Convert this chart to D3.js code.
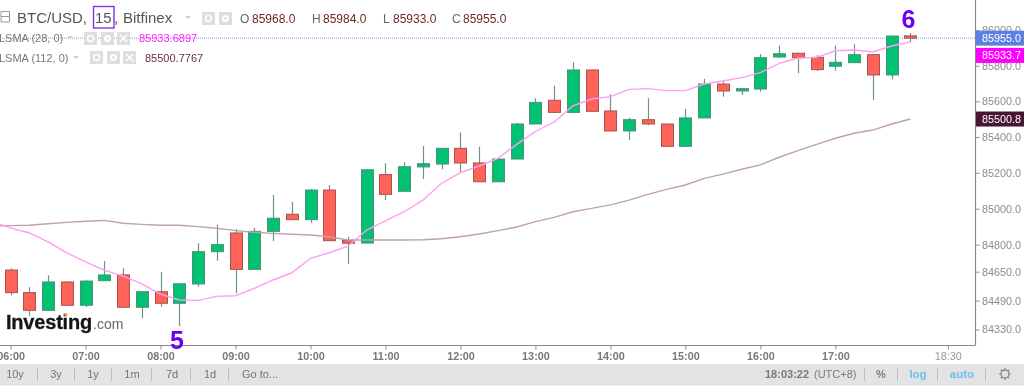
<!DOCTYPE html>
<html><head><meta charset="utf-8">
<script src="https://cdn.jsdelivr.net/npm/d3@7/dist/d3.min.js"></script>
<style>
html,body{margin:0;padding:0;background:#fff;overflow:hidden}
svg{display:block;filter:blur(.35px)}
text{font-family:"Liberation Sans",Arial,sans-serif}
</style></head><body><svg id="c" width="1024" height="388"></svg>
<script>
const minutes=d3.range(49).map(i=>i*15);
const open =[84659,84534,84436,84593,84464,84600,84632,84453,84539,84475,84582,84761,84865,84663,84874,84969,84939,85104,84824,84809,85190,85097,85233,85249,85337,85255,85150,85277,85473,85606,85538,85776,85546,85434,85497,85473,85348,85507,85697,85658,85669,85849,85870,85847,85797,85817,85862,85748,85968];
const high =[84669,84564,84630,84595,84602,84709,84669,84539,84650,84583,84808,84911,84887,84894,85078,85039,85108,85132,84844,85220,85253,85259,85350,85337,85426,85346,85279,85480,85617,85688,85821,85776,85639,85508,85617,85473,85557,85727,85710,85673,85866,85912,85873,85860,85912,85920,85864,85969,85984];
const low  =[84519,84406,84436,84464,84453,84600,84453,84392,84456,84348,84567,84711,84530,84663,84820,84939,84922,84822,84694,84809,85048,85097,85166,85220,85205,85150,85150,85277,85473,85538,85538,85544,85434,85383,85466,85348,85348,85507,85626,85635,85654,85845,85757,85770,85772,85817,85607,85724,85933];
const close=[84534,84436,84593,84464,84598,84632,84453,84539,84475,84583,84761,84800,84663,84874,84947,84939,85104,84822,84808,85217,85080,85234,85251,85337,85255,85150,85277,85473,85594,85538,85776,85544,85434,85497,85473,85348,85507,85697,85658,85671,85845,85867,85845,85778,85819,85862,85748,85967,85955];
const lsma28 =[84926,84893,84865,84816,84755,84705,84659,84625,84582,84526,84493,84491,84513,84517,84558,84604,84644,84724,84755,84792,84881,84932,84983,85048,85142,85201,85238,85281,85359,85431,85484,85574,85613,85626,85667,85671,85660,85660,85697,85714,85733,85761,85813,85843,85847,85884,85888,85877,85911,85933.7];
const lsma112=[84905,84906,84908,84916,84924,84930,84935,84919,84913,84908,84908,84900,84891,84878,84869,84863,84858,84854,84844,84826,84826,84826,84826,84827,84833,84844,84859,84878,84898,84928,84952,84983,85002,85021,85048,85080,85108,85132,85169,85193,85220,85244,85287,85324,85359,85393,85421,85439,85473,85500.8];
const maMinutes=d3.range(-1,49).map(i=>i*15);
const priceTicks=[84330,84490,84650,84800,85000,85200,85400,85600,85800,86000];
const hourLabels=new Map([[0,"06:00"],[60,"07:00"],[120,"08:00"],[180,"09:00"],[240,"10:00"],[300,"11:00"],[360,"12:00"],[420,"13:00"],[480,"14:00"],[540,"15:00"],[600,"16:00"],[660,"17:00"],[750,"18:30"]]);
const rangeButtons=["10y","3y","1y","1m","7d","1d","Go to..."];
const ohlcLabels=["O","H","L","C"];
const ohlcValues=["85968.0","85984.0","85933.0","85955.0"];
const tags=[[85955,"85955.0","#5c80e2",0],[85933.7,"85933.7","#ff00ff",13.5],[85500.8,"85500.8","#481634",0]];

const svg=d3.select("#c");
const axisX=975.5, axisY=345.5;
const x=d3.scaleLinear().domain([0,750]).range([10.6,947.8]);
const y=d3.scaleLog().domain([85000,85800]).range([208.7,65.7]);
const UP="#01c172", DOWN="#ff6258";

const defs=svg.append("defs");
defs.append("clipPath").attr("id","plot").append("rect").attr("width",axisX).attr("height",axisY);
const plot=svg.append("g").attr("clip-path","url(#plot)");

plot.append("line").attr("x1",0).attr("x2",axisX).attr("y1",y(85955)).attr("y2",y(85955))
  .attr("stroke","#7f96ea").attr("stroke-dasharray","1 1");

const candles=plot.selectAll("g.c").data(minutes).join("g").attr("class","c");
candles.append("line").attr("x1",(m)=>Math.round(x(m))+.5).attr("x2",m=>Math.round(x(m))+.5)
  .attr("y1",(m,i)=>y(high[i])).attr("y2",(m,i)=>y(low[i]))
  .attr("stroke","#6f9484").attr("stroke-width",1.2);
candles.append("rect").attr("x",m=>Math.round(x(m))-5.5).attr("width",12)
  .attr("y",(m,i)=>y(Math.max(open[i],close[i])))
  .attr("height",(m,i)=>Math.max(2,y(Math.min(open[i],close[i]))-y(Math.max(open[i],close[i]))))
  .attr("fill",(m,i)=>close[i]>=open[i]?UP:DOWN)
  .attr("stroke",(m,i)=>close[i]>=open[i]?"#4f8f75":"#a4544d").attr("stroke-width",1);

const ln=d3.line().x((d,i)=>x(maMinutes[i])).y(d=>y(d));
plot.append("path").datum(lsma112).attr("d",ln).attr("fill","none").attr("stroke","#bfa0b0").attr("stroke-width",1.4);
plot.append("path").datum(lsma28).attr("d",ln).attr("fill","none").attr("stroke","#ff9cf5").attr("stroke-width",1.4);

const gy=svg.append("g").attr("transform",`translate(${axisX},0)`)
  .call(d3.axisRight(y).tickValues(priceTicks).tickSize(4).tickPadding(2.5).tickFormat(d3.format(".1f")));
gy.select(".domain").attr("d",`M0,0V${axisY}`).attr("stroke","#8a8a8a").attr("stroke-width",1.2);
gy.selectAll(".tick line").attr("stroke","#8a8a8a");
gy.selectAll("text").attr("fill","#8b8b8b").attr("font-size",10.8).attr("font-family",'"Liberation Sans",Arial,sans-serif');

const gx=svg.append("g").attr("transform",`translate(0,${axisY})`)
  .call(d3.axisBottom(x).tickValues([...hourLabels.keys()]).tickSize(4).tickPadding(3).tickFormat(m=>hourLabels.get(m)));
gx.select(".domain").attr("d",`M0,0H${axisX}`).attr("stroke","#8a8a8a").attr("stroke-width",1.2);
gx.selectAll(".tick line").attr("stroke","#8a8a8a");
gx.selectAll("text").attr("fill",m=>m===750?"#999":"#777").attr("font-weight",m=>m===750?"normal":"bold")
  .attr("font-size",10.8).attr("font-family",'"Liberation Sans",Arial,sans-serif');

tags.forEach(([v,t,bg,dy])=>{
  const yy=y(v)+dy;
  svg.append("rect").attr("x",976).attr("y",yy-7.5).attr("width",48).attr("height",15).attr("fill",bg);
  svg.append("text").attr("x",982).attr("y",yy+4).attr("fill","#fff").attr("font-size",10.8).text(t);
});

// header
function icon(px,py,kind){
  svg.append("rect").attr("x",px).attr("y",py).attr("width",13).attr("height",13).attr("fill","#dedede");
  if(kind==="eye"){svg.append("circle").attr("cx",px+6.5).attr("cy",py+6.5).attr("r",3).attr("fill","none").attr("stroke","#fff").attr("stroke-width",1.5);}
  if(kind==="gear"){svg.append("circle").attr("cx",px+6.5).attr("cy",py+6.5).attr("r",3.5).attr("fill","#fff");svg.append("circle").attr("cx",px+6.5).attr("cy",py+6.5).attr("r",1.3).attr("fill","#dedede");}
  if(kind==="x"){svg.append("path").attr("d",`M${px+3},${py+3}L${px+10},${py+10}M${px+10},${py+3}L${px+3},${py+10}`).attr("stroke","#fff").attr("stroke-width",1.5);}
}
const hf='"Noto Sans",sans-serif', tf='"DejaVu Sans",sans-serif';
svg.append("path").attr("d","M1,11.5H9.5V22H1V11.5M1,16.5H9.5").attr("fill","none").attr("stroke","#999");
svg.append("text").attr("x",17).attr("y",22.5).attr("font-family",tf).attr("font-size",15).attr("fill","#555").text("BTC/USD,");
svg.append("text").attr("x",95).attr("y",22.5).attr("font-family",tf).attr("font-size",15).attr("fill","#555").text("15");
svg.append("rect").attr("x",93.5).attr("y",6.5).attr("width",20.5).attr("height",21.5).attr("fill","none").attr("stroke","#7a35e8").attr("stroke-width",1.4);
svg.append("text").attr("x",114).attr("y",22.5).attr("font-family",tf).attr("font-size",15).attr("fill","#555").text(",");
svg.append("text").attr("x",123).attr("y",22.5).attr("font-family",tf).attr("font-size",15).attr("fill","#555").text("Bitfinex");
svg.append("path").attr("d","M185,16h6l-3,3z").attr("fill","#ccc");
icon(202,12,"eye");icon(219,12,"gear");
ohlcLabels.forEach((l,i)=>{
  const xs=[240,312,383,452][i];
  svg.append("text").attr("x",xs).attr("y",22.5).attr("font-family",tf).attr("font-size",12).attr("fill","#666").text(l);
  svg.append("text").attr("x",[252,323,393,463][i]).attr("y",22.5).attr("font-family",tf).attr("font-size",12).attr("fill","#6f2a20").text(ohlcValues[i]);
});
svg.append("text").attr("x",-1).attr("y",42).attr("font-family",hf).attr("font-size",11).attr("fill","#777").text("LSMA (28, 0)");
svg.append("path").attr("d","M67,36h6l-3,3z").attr("fill","#ccc");
icon(84,32,"eye");icon(101,32,"gear");icon(117,32,"x");
svg.append("text").attr("x",139).attr("y",42).attr("font-family",hf).attr("font-size",11).attr("fill","#ff22ff").text("85933.6897");
svg.append("text").attr("x",-1).attr("y",62).attr("font-family",hf).attr("font-size",11).attr("fill","#777").text("LSMA (112, 0)");
svg.append("path").attr("d","M73,56h6l-3,3z").attr("fill","#ccc");
icon(90,51,"eye");icon(107,51,"gear");icon(123,51,"x");
svg.append("text").attr("x",145).attr("y",62).attr("font-family",hf).attr("font-size",11).attr("fill","#66304f").text("85500.7767");

// annotations
svg.append("text").attr("x",177).attr("y",349).attr("text-anchor","middle").attr("font-size",25).attr("font-weight","bold").attr("fill","#6a00f0").attr("font-family",'"Liberation Sans"').text("5");
svg.append("text").attr("x",908.5).attr("y",28).attr("text-anchor","middle").attr("font-size",25).attr("font-weight","bold").attr("fill","#6a00f0").attr("font-family",'"Liberation Sans"').text("6");

// logo
svg.append("text").attr("x",6).attr("y",329).attr("font-size",20).attr("font-weight","bold").attr("fill","#151515").attr("stroke","#151515").attr("stroke-width",.3).attr("letter-spacing","-.2").text("Investing");
svg.append("text").attr("x",93).attr("y",329).attr("font-size",14).attr("fill","#666").text(".com");
svg.append("circle").attr("cx",66).attr("cy",314.5).attr("r",1.6).attr("fill","#f5a623");

// toolbar
svg.append("rect").attr("y",364).attr("width",1024).attr("height",21.5).attr("fill","#e3e3e6");
const bx=[15,56,93,132,172,210,260];
rangeButtons.forEach((t,i)=>{
  svg.append("text").attr("x",bx[i]).attr("y",378).attr("text-anchor","middle").attr("font-family",hf).attr("font-size",11).attr("fill","#757575").text(t);
});
[37,74,111,151,190,228,864,897,937,985].forEach(sx=>svg.append("line").attr("x1",sx+.5).attr("x2",sx+.5).attr("y1",368).attr("y2",381).attr("stroke","#bdbdbd"));
svg.append("text").attr("x",765).attr("y",378).attr("font-family",hf).attr("font-size",11).attr("font-weight","bold").attr("fill","#7b7b7b").text("18:03:22");
svg.append("text").attr("x",814).attr("y",378).attr("font-family",hf).attr("font-size",11).attr("fill","#7b7b7b").text("(UTC+8)");
svg.append("text").attr("x",881).attr("y",378).attr("text-anchor","middle").attr("font-family",hf).attr("font-size",11).attr("font-weight","bold").attr("fill","#7b7b7b").text("%");
svg.append("text").attr("x",918).attr("y",378).attr("text-anchor","middle").attr("font-family",hf).attr("font-size",11.5).attr("font-weight","bold").attr("fill","#6cc2e8").text("log");
svg.append("text").attr("x",962).attr("y",378).attr("text-anchor","middle").attr("font-family",hf).attr("font-size",11.5).attr("font-weight","bold").attr("fill","#6cc2e8").text("auto");
svg.append("circle").attr("cx",1005).attr("cy",374).attr("r",4).attr("fill","none").attr("stroke","#888").attr("stroke-width",1.3);
d3.range(8).forEach(k=>{const a=k*Math.PI/4;svg.append("line").attr("x1",1005+Math.cos(a)*4).attr("y1",374+Math.sin(a)*4).attr("x2",1005+Math.cos(a)*6).attr("y2",374+Math.sin(a)*6).attr("stroke","#888").attr("stroke-width",1.2);});
</script></body></html>
